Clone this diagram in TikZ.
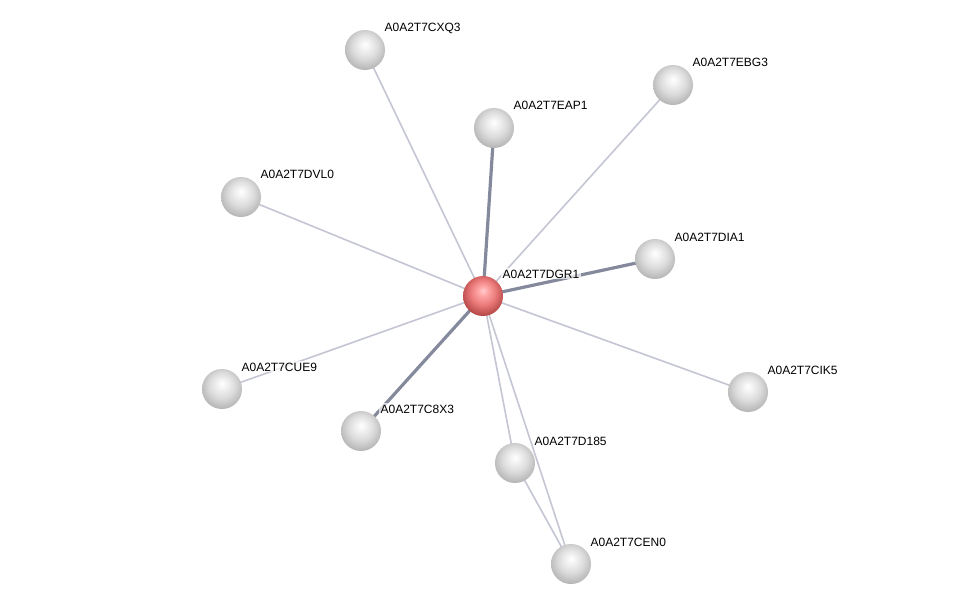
\documentclass[tikz,border=0pt]{standalone}
\usepackage{fontspec}
\setmainfont{Liberation Sans}
\pgfdeclareradialshading{greyball}{\pgfpoint{0bp}{7bp}}{color(0bp)=(white); color(6bp)=(white!95!black); color(16bp)=(white!86!black); color(27bp)=(white!72!black); color(32bp)=(white!58!black); color(50bp)=(white!58!black)}
\pgfdeclareradialshading{redball}{\pgfpoint{0bp}{7bp}}{color(0bp)=(white!80!red); color(6bp)=(red!35!white); color(16bp)=(red!48!white!92!black); color(27bp)=(red!60!white!72!black); color(32bp)=(red!60!black); color(50bp)=(red!60!black)}
\begin{document}
\begin{tikzpicture}[x=0.75pt,y=-0.75pt,
  prot/.style={circle,minimum size=30pt,inner sep=0pt,shading=greyball,draw=none},
  hub/.style={circle,minimum size=30pt,inner sep=0pt,shading=redball,draw=none},
  lab/.style={anchor=base west,font=\fontsize{9pt}{10pt}\selectfont,fill=white,fill opacity=0.7,text opacity=1,inner sep=1pt},
  weak/.style={line width=1.2pt,color={rgb,255:red,196;green,198;blue,212}},
  strong/.style={line width=2.4pt,color={rgb,255:red,132;green,137;blue,156}}]
\useasboundingbox (0,0) rectangle (976,610);
\fill[white] (0,0) rectangle (976,610);
\coordinate (c) at (483,296);
\coordinate (p1) at (365,50);
\coordinate (p2) at (494,128);
\coordinate (p3) at (673,85);
\coordinate (p4) at (241,197);
\coordinate (p5) at (655,259);
\coordinate (p6) at (222,389);
\coordinate (p7) at (361,431);
\coordinate (p8) at (748,392);
\coordinate (p9) at (515,463);
\coordinate (p10) at (571,564);
% edges
\draw[weak] (c) -- (p1);
\draw[strong] (c) -- (p2);
\draw[weak] (c) -- (p3);
\draw[weak] (c) -- (p4);
\draw[strong] (c) -- (p5);
\draw[weak] (c) -- (p6);
\draw[strong] (c) -- (p7);
\draw[weak] (c) -- (p8);
\draw[weak] (c) -- (p9);
\draw[weak] (c) -- (p10);
\draw[weak] (p9) -- (p10);
% nodes
\node[hub] (DGR1) at (c) {};
\node[prot] (CXQ3) at (p1) {};
\node[prot] (EAP1) at (p2) {};
\node[prot] (EBG3) at (p3) {};
\node[prot] (DVL0) at (p4) {};
\node[prot] (DIA1) at (p5) {};
\node[prot] (CUE9) at (p6) {};
\node[prot] (C8X3) at (p7) {};
\node[prot] (CIK5) at (p8) {};
\node[prot] (D185) at (p9) {};
\node[prot] (CEN0) at (p10) {};
% labels
\foreach \n/\t in {DGR1/A0A2T7DGR1,CXQ3/A0A2T7CXQ3,EAP1/A0A2T7EAP1,EBG3/A0A2T7EBG3,DVL0/A0A2T7DVL0,DIA1/A0A2T7DIA1,CUE9/A0A2T7CUE9,C8X3/A0A2T7C8X3,CIK5/A0A2T7CIK5,D185/A0A2T7D185,CEN0/A0A2T7CEN0}
  \node[lab] (l\n) at ([xshift=13.5pt,yshift=13.5pt]\n.center) {\t};
\end{tikzpicture}
\end{document}
